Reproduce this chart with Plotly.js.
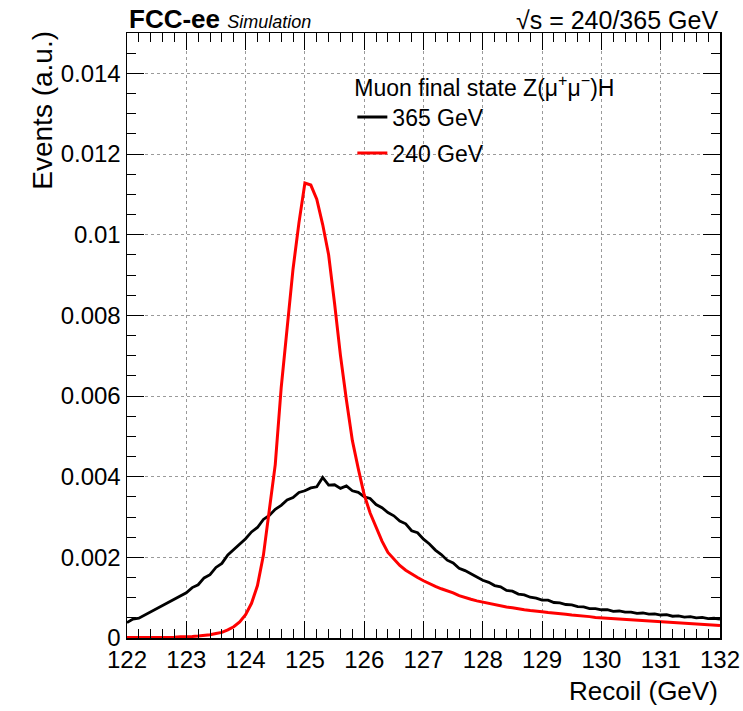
<!DOCTYPE html>
<html>
<head>
<meta charset="utf-8">
<script src="https://cdn.plot.ly/plotly-3.0.1.min.js"></script>
<style>
  html, body { margin: 0; padding: 0; background: #fff; }
  #chart { width: 743px; height: 711px; }
</style>
</head>
<body>
<div id="chart"></div>
<script>
// Recoil mass bins (GeV)
const recoil = [
  122.0,122.1,122.2,122.3,122.4,122.5,122.6,122.7,122.8,122.9,
  123.0,123.1,123.2,123.3,123.4,123.5,123.6,123.7,123.8,123.9,
  124.0,124.1,124.2,124.3,124.4,124.5,124.6,124.7,124.8,124.9,
  125.0,125.1,125.2,125.3,125.4,125.5,125.6,125.7,125.8,125.9,
  126.0,126.1,126.2,126.3,126.4,126.5,126.6,126.7,126.8,126.9,
  127.0,127.1,127.2,127.3,127.4,127.5,127.6,127.7,127.8,127.9,
  128.0,128.1,128.2,128.3,128.4,128.5,128.6,128.7,128.8,128.9,
  129.0,129.1,129.2,129.3,129.4,129.5,129.6,129.7,129.8,129.9,
  130.0,130.1,130.2,130.3,130.4,130.5,130.6,130.7,130.8,130.9,
  131.0,131.1,131.2,131.3,131.4,131.5,131.6,131.7,131.8,131.9,
  132.0
];

// 365 GeV (black)
const events365 = [
  0.00038,0.00047,0.00049,0.00057,0.00063,0.00071,0.00080,0.00089,0.00096,0.00105,
  0.00112,0.00125,0.00132,0.00149,0.00157,0.00175,0.00185,0.00206,0.00219,0.00233,
  0.00246,0.00263,0.00274,0.00294,0.00304,0.00319,0.00329,0.00342,0.00348,0.00361,
  0.00365,0.00372,0.00375,0.00398,0.00379,0.00380,0.00371,0.00377,0.00365,0.00361,
  0.00350,0.00346,0.00331,0.00323,0.00311,0.00303,0.00290,0.00283,0.00266,0.00261,
  0.00245,0.00233,0.00218,0.00207,0.00193,0.00186,0.00173,0.00167,0.00158,0.00151,
  0.00143,0.00138,0.00130,0.00127,0.00118,0.00116,0.00109,0.00107,0.00101,0.00099,
  0.00094,0.00094,0.00088,0.00087,0.00083,0.00082,0.00078,0.00077,0.00073,0.00073,
  0.00070,0.00070,0.00066,0.00067,0.00064,0.00064,0.00061,0.00062,0.00059,0.00060,
  0.00057,0.00058,0.00054,0.00055,0.00052,0.00053,0.00050,0.00051,0.00048,0.00049,
  0.00047
];

// 240 GeV (red)
const events240 = [
  0.00001,0.00001,0.00001,0.00001,0.00001,0.00002,0.00002,0.00002,0.00002,0.00003,
  0.00003,0.00004,0.00005,0.00006,0.00008,0.00011,0.00014,0.00020,0.00028,0.00040,
  0.00058,0.00086,0.00130,0.00205,0.00315,0.00430,0.00620,0.00770,0.00915,0.01030,
  0.01128,0.01123,0.01088,0.01025,0.00950,0.00830,0.00700,0.00590,0.00490,0.00420,
  0.00355,0.00310,0.00275,0.00240,0.00212,0.00195,0.00180,0.00168,0.00158,0.00150,
  0.00142,0.00134,0.00128,0.00122,0.00117,0.00112,0.00105,0.00100,0.00096,0.00092,
  0.00089,0.00085,0.00082,0.00079,0.00077,0.00075,0.00072,0.00070,0.00068,0.00067,
  0.00065,0.00063,0.00062,0.00061,0.00059,0.00057,0.00056,0.00054,0.00053,0.00051,
  0.00050,0.00049,0.00048,0.00047,0.00046,0.00045,0.00044,0.00043,0.00042,0.00041,
  0.00040,0.00039,0.00038,0.00037,0.00036,0.00035,0.00034,0.00034,0.00033,0.00032,
  0.00031
];

const seriesNames = ["365 GeV", "240 GeV"];
const legendTitle = "Muon final state Z(\u03bc<sup>+</sup>\u03bc<sup>\u2212</sup>)H";

const xTickVals = [122,123,124,125,126,127,128,129,130,131,132];
const xTickText = ["122","123","124","125","126","127","128","129","130","131","132"];
const yTickVals = [0,0.002,0.004,0.006,0.008,0.01,0.012,0.014];
const yTickText = ["0","0.002","0.004","0.006","0.008","0.01","0.012","0.014"];

const FONT = "Liberation Sans, Arial, Helvetica, sans-serif";

const traces = [
  {
    x: recoil, y: events365, name: seriesNames[0], type: "scatter", mode: "lines",
    line: {color: "#000000", width: 2.8}, legendgroup: "a"
  },
  {
    x: recoil, y: events240, name: seriesNames[1], type: "scatter", mode: "lines",
    line: {color: "#ff0000", width: 3}, legendgroup: "b"
  }
];

const layout = {
  width: 743, height: 711,
  margin: {l: 127, r: 23, t: 33, b: 73, pad: 0},
  paper_bgcolor: "#ffffff",
  plot_bgcolor: "#ffffff",
  font: {family: FONT, color: "#000", size: 24},
  showlegend: true,
  legend: {
    x: 0.380, y: 0.946, xanchor: "left", yanchor: "top",
    bgcolor: "rgba(255,255,255,0)",
    font: {family: FONT, size: 23, color: "#000"},
    title: {text: legendTitle, font: {family: FONT, size: 23, color: "#000"}},
    traceorder: "grouped",
    tracegroupgap: 3,
    itemwidth: 30
  },
  xaxis: {
    range: [122, 132],
    tickmode: "array", tickvals: xTickVals, ticktext: xTickText,
    ticks: "inside", ticklen: 17, tickwidth: 1, tickcolor: "#000",
    showline: true, linecolor: "#000", linewidth: 1.5, mirror: "allticks",
    showgrid: true, gridcolor: "#9a9a9a", gridwidth: 1, griddash: "dot",
    zeroline: false,
    tickfont: {family: FONT, size: 24, color: "#000"},
    minor: {tickmode: "linear", tick0: 122, dtick: 0.2, ticks: "inside", ticklen: 9, tickwidth: 1, tickcolor: "#000", showgrid: false}
  },
  yaxis: {
    range: [0, 0.015],
    tickmode: "array", tickvals: yTickVals, ticktext: yTickText,
    ticks: "inside", ticklen: 17, tickwidth: 1, tickcolor: "#000",
    showline: true, linecolor: "#000", linewidth: 1.5, mirror: "allticks",
    showgrid: true, gridcolor: "#9a9a9a", gridwidth: 1, griddash: "dot",
    zeroline: false,
    tickfont: {family: FONT, size: 24, color: "#000"},
    minor: {tickmode: "linear", tick0: 0, dtick: 0.0005, ticks: "inside", ticklen: 9, tickwidth: 1, tickcolor: "#000", showgrid: false}
  },
  annotations: [
    {
      text: "<b>FCC-ee</b> <i><span style='font-size:18px'>Simulation</span></i>",
      xref: "paper", yref: "paper", x: 0, y: 1, xanchor: "left", yanchor: "bottom",
      showarrow: false, font: {family: FONT, size: 26, color: "#000"}, yshift: -3
    },
    {
      text: "\u221as = 240/365 GeV",
      xref: "paper", yref: "paper", x: 1, y: 1, xanchor: "right", yanchor: "bottom",
      showarrow: false, font: {family: FONT, size: 25, color: "#000"}, yshift: -3
    },
    {
      text: "Recoil (GeV)",
      xref: "paper", yref: "paper", x: 1, y: 0, xanchor: "right", yanchor: "top",
      showarrow: false, font: {family: FONT, size: 26, color: "#000"}, yshift: -36
    },
    {
      text: "Events (a.u.)", textangle: -90,
      xref: "paper", yref: "paper", x: -0.143, y: 1, xanchor: "center", yanchor: "top",
      showarrow: false, font: {family: FONT, size: 28, color: "#000"}, yshift: 4
    }
  ]
};

Plotly.newPlot("chart", traces, layout, {displayModeBar: false, staticPlot: true});
</script>
</body>
</html>
